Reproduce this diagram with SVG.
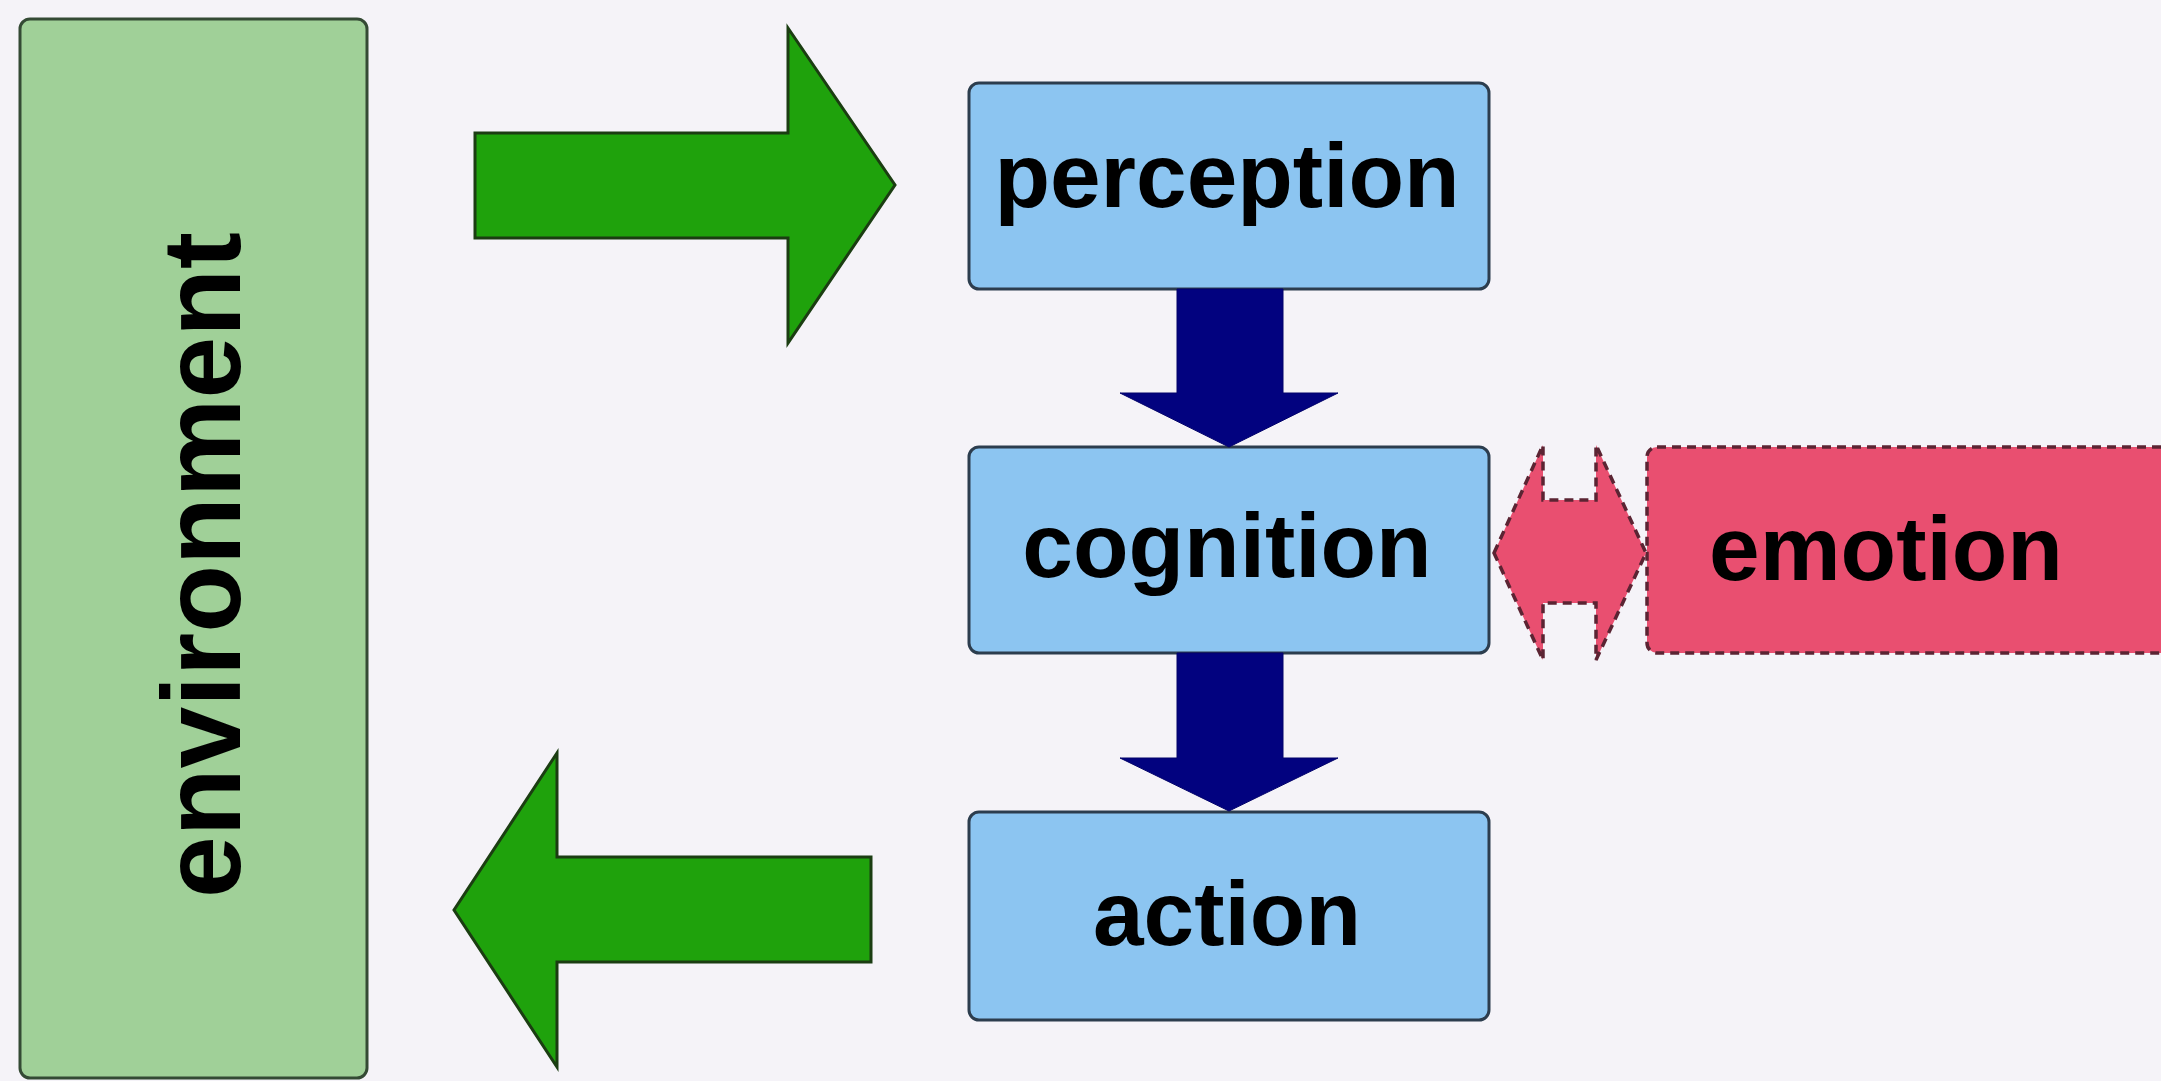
<svg xmlns="http://www.w3.org/2000/svg" width="2161" height="1081" viewBox="0 0 2161 1081">
  <style>
    .lbl { font-family: "Liberation Sans", Arial, sans-serif; font-weight: bold; fill: #000; text-anchor: middle; }
    .box { fill: #8cc5f1; stroke: #2c3d4e; stroke-width: 3; }
    .green { fill: #1fa20c; stroke: #1b3d12; stroke-width: 3; stroke-linejoin: miter; }
    .navy { fill: #02027f; stroke: #02026a; stroke-width: 1; }
    .dash { fill: #e94f70; stroke: #5b2433; stroke-width: 3.5; stroke-dasharray: 9 6; }
  </style>
  <rect x="0" y="0" width="2161" height="1081" fill="#f5f3f8"/>

  <g id="environment">
    <rect x="20" y="19" width="347" height="1059" rx="10" fill="#a0d098" stroke="#344a34" stroke-width="3"/>
    <text class="lbl" transform="translate(240,565) rotate(-90)" x="0" y="0" font-size="111">environment</text>
  </g>

  <g id="perception">
    <rect class="box" x="969" y="83" width="520" height="206" rx="10"/>
    <text class="lbl" x="1227" y="207" font-size="91">perception</text>
  </g>

  <g id="cognition">
    <rect class="box" x="969" y="447" width="520" height="206" rx="10"/>
    <text class="lbl" x="1227" y="577" font-size="91">cognition</text>
  </g>

  <g id="action">
    <rect class="box" x="969" y="812" width="520" height="208" rx="10"/>
    <text class="lbl" x="1227" y="945" font-size="91">action</text>
  </g>

  <g id="emotion">
    <rect class="dash" x="1647" y="447" width="620" height="206" rx="10"/>
    <text class="lbl" x="1886" y="580" font-size="91">emotion</text>
  </g>

  <g id="connectors">
    <polygon class="green" points="475,133 788,133 788,28 895,185 788,343 788,238 475,238"/>
    <polygon class="green" points="871,857 557,857 557,753 454,910 557,1067 557,962 871,962"/>
    <polygon class="navy" points="1177,289 1283,289 1283,393 1338,393 1229,447 1120,393 1177,393"/>
    <polygon class="navy" points="1177,653 1283,653 1283,758 1338,758 1229,811 1120,758 1177,758"/>
    <polygon class="dash" points="1494,553 1543,445 1543,500 1596,500 1596,445 1646,553 1596,660 1596,603 1543,603 1543,660"/>
  </g>
</svg>
